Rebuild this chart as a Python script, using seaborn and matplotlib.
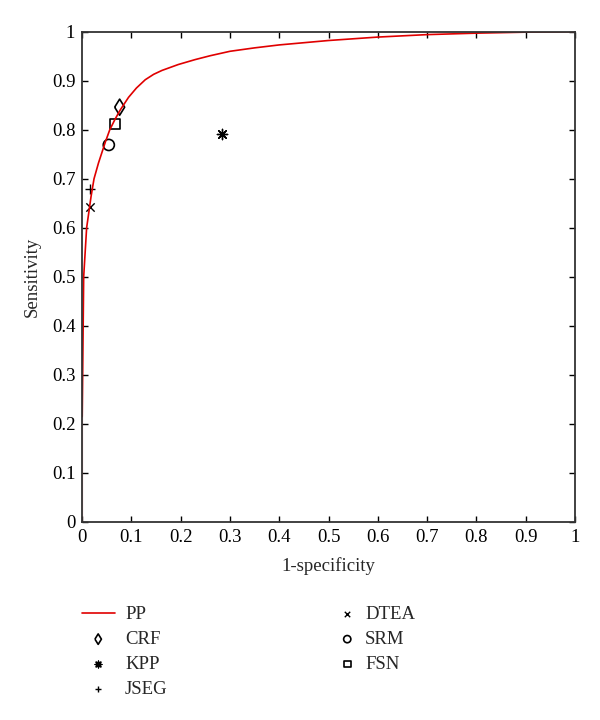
import numpy as np
import pandas as pd
import seaborn as sns
import matplotlib.pyplot as plt

# ROC curve of PP
pp_fpr = [0, 0, 0.003, 0.009, 0.018, 0.024, 0.033, 0.047, 0.056, 0.067, 0.077, 0.094,
          0.11, 0.128, 0.145, 0.162, 0.195, 0.229, 0.26, 0.3, 0.35, 0.4, 0.5, 0.6,
          0.7, 0.8, 0.9, 1.0]
pp_tpr = [0, 0.43, 0.5, 0.6, 0.664, 0.70, 0.732, 0.775, 0.80, 0.822, 0.840, 0.866,
          0.885, 0.902, 0.913, 0.921, 0.933, 0.943, 0.951, 0.960, 0.967, 0.973, 0.982,
          0.989, 0.994, 0.997, 0.999, 1.0]

# single operating points of the other methods
methods = ['CRF', 'KPP', 'JSEG', 'DTEA', 'SRM', 'FSN']
method_fpr = [0.076, 0.283, 0.015, 0.015, 0.054, 0.066]
method_tpr = [0.846, 0.791, 0.679, 0.642, 0.769, 0.812]

sns.set_theme(style='ticks')
plt.rcParams['font.family'] = ['Liberation Serif', 'DejaVu Serif']
FS = 13.5

fig = plt.figure(figsize=(6, 7.2), dpi=100)
ax = fig.add_axes([0.137, 0.275, 0.821, 0.681])

curve = pd.DataFrame({'fpr': pp_fpr, 'tpr': pp_tpr})
sns.lineplot(data=curve, x='fpr', y='tpr', sort=False, color='#e00000', lw=1.2,
             label='PP', ax=ax)

diamond = [(-0.62, 0), (0, 1), (0.62, 0), (0, -1), (-0.62, 0)]
markers = {'CRF': diamond, 'KPP': (8, 2, 0), 'JSEG': '+', 'DTEA': 'x', 'SRM': 'o', 'FSN': 's'}
sizes = {'CRF': 135, 'KPP': 55, 'JSEG': 55, 'DTEA': 36, 'SRM': 64, 'FSN': 56}
for name, fx, ty in zip(methods, method_fpr, method_tpr):
    m = markers[name]
    if name in ('CRF', 'SRM', 'FSN'):
        sns.scatterplot(x=[fx], y=[ty], marker=m, s=sizes[name], facecolor='none',
                        edgecolor='black', linewidth=1.2, label=name, ax=ax)
    else:
        sns.scatterplot(x=[fx], y=[ty], marker=m, s=sizes[name], color='black',
                        linewidth=1.0, label=name, ax=ax)

ax.set_xlim(0, 1)
ax.set_ylim(0, 1)
ticks = np.round(np.arange(0, 1.01, 0.1), 1)
labels = ['0'] + [f'{t:.1f}' for t in ticks[1:-1]] + ['1']
ax.set_xticks(ticks, labels)
ax.set_yticks(ticks, labels)
ax.tick_params(direction='in', length=4, width=1, top=True, right=True,
               labelsize=FS, colors='black', pad=5)
for sp in ax.spines.values():
    sp.set_visible(True)
    sp.set_color('#333333')
    sp.set_linewidth(1.3)
ax.set_xlabel('1-specificity', fontsize=FS, labelpad=8)
ax.set_ylabel('Sensitivity', fontsize=FS, labelpad=8)

handles, names = ax.get_legend_handles_labels()
ax.get_legend().remove()
# legend below the axes, two columns laid out separately
fig.legend(handles[:4], names[:4], loc='upper left', bbox_to_anchor=(0.108, 0.1816),
           frameon=False, fontsize=FS, markerscale=0.65, handlelength=1.76,
           labelspacing=0.41, handletextpad=0.55)
fig.legend(handles[4:], names[4:], loc='upper left', bbox_to_anchor=(0.535, 0.1816),
           frameon=False, fontsize=FS, markerscale=0.65, handlelength=1.0,
           labelspacing=0.41, handletextpad=0.46)

fig.savefig('out.png', dpi=100)
